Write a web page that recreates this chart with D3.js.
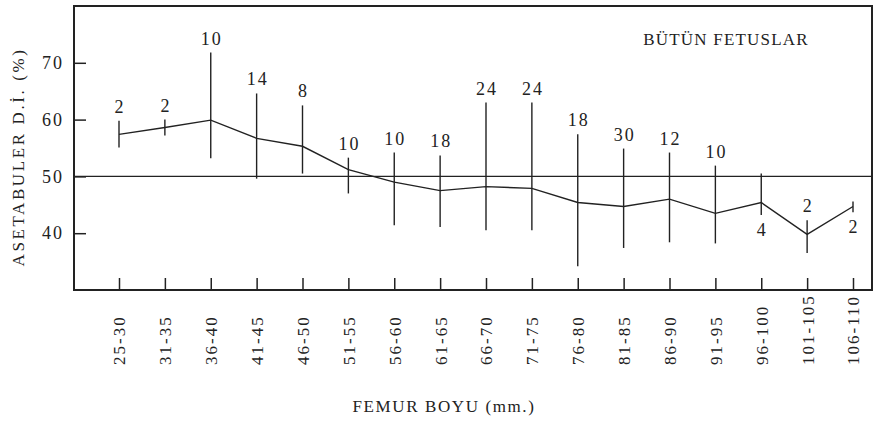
<!DOCTYPE html>
<meta charset="utf-8">
<style>
body { margin: 0; background: #fff; }
text { font-family: "Liberation Serif", "Times New Roman", serif; fill: #222; }
</style>
<body>
<div id="chart"></div>
<script src="https://cdnjs.cloudflare.com/ajax/libs/d3/7.8.5/d3.min.js"></script>
<script>

// femur length groups (mm)
var categories = ["25-30", "31-35", "36-40", "41-45", "46-50", "51-55", "56-60", "61-65",
  "66-70", "71-75", "76-80", "81-85", "86-90", "91-95", "96-100", "101-105", "106-110"];
// number of fetuses per group
var counts = [2, 2, 10, 14, 8, 10, 10, 18, 24, 24, 18, 30, 12, 10, 4, 2, 2];
// mean acetabular index
var means = [57.4, 58.6, 59.9, 56.7, 55.3, 51.2, 49.0, 47.5, 48.2, 47.9, 45.4, 44.7, 46.0, 43.5, 45.4, 39.8, 44.7];
// range of each group
var highs = [59.8, 60.0, 71.8, 64.6, 62.5, 53.3, 54.2, 53.7, 63.0, 63.0, 57.4, 54.9, 54.2, 51.9, 50.5, 42.3, 45.6];
var lows  = [55.1, 57.2, 53.2, 49.6, 50.5, 47.0, 41.4, 41.1, 40.5, 40.5, 34.2, 37.4, 38.4, 38.2, 43.2, 36.5, 43.7];
var yTicks = [40, 50, 60, 70];
var refValue = 50;
// groups whose count is written under the bar
var labelBelow = ["96-100", "106-110"];

var width = 877, height = 430;
var frame = {left: 74, top: 6, right: 872, bottom: 290};

var data = categories.map(function(c, i) {
  return {cat: c, n: counts[i], mean: means[i], hi: highs[i], lo: lows[i]};
});

var x = d3.scalePoint().domain(categories).range([119, 853]);
var y = d3.scaleLinear().domain([30, 80]).range([frame.bottom, frame.top]);

var svg = d3.select("#chart").append("svg")
  .attr("width", width)
  .attr("height", height);

svg.append("rect")
  .attr("width", width).attr("height", height).attr("fill", "#fff");

// x axis: ticks pointing up into the plot, labels rotated
var xAxis = svg.append("g")
  .attr("transform", "translate(0," + frame.bottom + ")")
  .call(d3.axisBottom(x).tickSize(-12).tickSizeOuter(0));
xAxis.select(".domain").remove();
xAxis.selectAll("line").attr("stroke", "#222").attr("stroke-width", 1.5);
xAxis.selectAll("text")
  .attr("transform", "rotate(-90)")
  .attr("x", -75)
  .attr("y", 0)
  .attr("dy", "0.35em")
  .attr("text-anchor", "start")
  .style("font-size", "17px")
  .style("letter-spacing", "2px")
  .style("font-family", "Liberation Serif")
  .attr("fill", "#222");

// y axis
var yAxis = svg.append("g")
  .attr("transform", "translate(" + frame.left + ",0)")
  .call(d3.axisLeft(y).tickValues(yTicks).tickSize(-12).tickPadding(10));
yAxis.select(".domain").remove();
yAxis.selectAll("line").attr("stroke", "#222").attr("stroke-width", 1.5);
yAxis.selectAll("text")
  .style("font-size", "18px")
  .style("letter-spacing", "2px")
  .style("font-family", "Liberation Serif")
  .attr("fill", "#222");

// frame
svg.append("rect")
  .attr("x", frame.left).attr("y", frame.top)
  .attr("width", frame.right - frame.left)
  .attr("height", frame.bottom - frame.top)
  .attr("fill", "none")
  .attr("stroke", "#222")
  .attr("stroke-width", 2);

// reference line at 50
svg.append("line")
  .attr("x1", frame.left).attr("x2", frame.right)
  .attr("y1", y(refValue)).attr("y2", y(refValue))
  .attr("stroke", "#222").attr("stroke-width", 1.4);

// range bars
svg.selectAll(".bar")
  .data(data)
  .join("line")
  .attr("class", "bar")
  .attr("x1", function(d) { return x(d.cat); })
  .attr("x2", function(d) { return x(d.cat); })
  .attr("y1", function(d) { return y(d.hi); })
  .attr("y2", function(d) { return y(d.lo); })
  .attr("stroke", "#222").attr("stroke-width", 1.4);

// mean line
var line = d3.line()
  .x(function(d) { return x(d.cat); })
  .y(function(d) { return y(d.mean); });

svg.append("path")
  .datum(data)
  .attr("d", line)
  .attr("fill", "none")
  .attr("stroke", "#222")
  .attr("stroke-width", 1.4);

// counts
svg.selectAll(".count")
  .data(data)
  .join("text")
  .attr("class", "count")
  .attr("x", function(d) { return x(d.cat) + 1; })
  .attr("y", function(d) {
    return labelBelow.indexOf(d.cat) >= 0 ? y(d.lo) + 21 : y(d.hi) - 8;
  })
  .attr("text-anchor", "middle")
  .style("font-size", "18px")
  .style("letter-spacing", "2px")
  .text(function(d) { return d.n; });

// titles
svg.append("text")
  .attr("x", 726).attr("y", 45)
  .attr("text-anchor", "middle")
  .style("font-size", "17px")
  .style("letter-spacing", "1.2px")
  .text("BÜTÜN FETUSLAR");

svg.append("text")
  .attr("x", 444).attr("y", 412)
  .attr("text-anchor", "middle")
  .style("font-size", "17px")
  .style("letter-spacing", "1.6px")
  .text("FEMUR BOYU (mm.)");

svg.append("text")
  .attr("transform", "translate(24,157) rotate(-90)")
  .attr("text-anchor", "middle")
  .style("font-size", "17px")
  .style("letter-spacing", "2.6px")
  .text("ASETABULER D.İ. (%)");

</script>
</body>
